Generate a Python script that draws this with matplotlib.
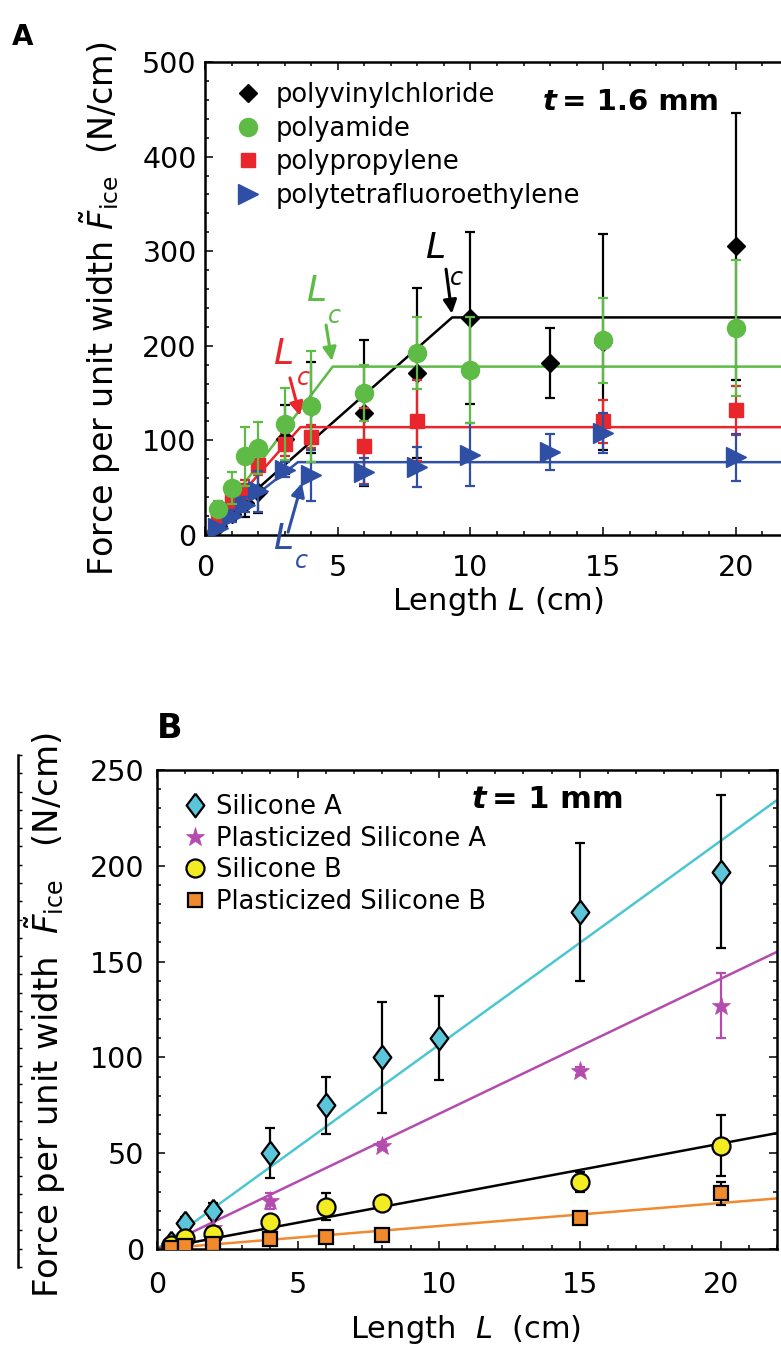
import numpy as np
import matplotlib
matplotlib.use("Agg")
import matplotlib.pyplot as plt
from matplotlib.ticker import MultipleLocator

plt.rcParams['font.family'] = ['DejaVu Sans']
plt.rcParams['mathtext.fontset'] = 'dejavusans'

# ---------------- Panel A data (t = 1.6 mm) ----------------
pvc_x = [0.5, 1, 1.5, 2, 3, 4, 6, 8, 10, 13, 15, 20]
pvc_y = [10, 22, 34, 45, 101, 135, 129, 171, 229, 182, 204, 305]
pvc_e = [4, 6, 15, 22, 36, 48, 77, 90, 91, 37, 114, 141]

pa_x = [0.5, 1, 1.5, 2, 3, 4, 6, 8, 10, 15, 20]
pa_y = [28, 50, 83, 92, 117, 136, 150, 192, 174, 206, 219]
pa_e = [8, 17, 31, 27, 38, 59, 30, 38, 56, 45, 72]

pp_x = [0.5, 1, 1.5, 2, 3, 4, 6, 8, 15, 20]
pp_y = [18, 37, 48, 74, 96, 104, 94, 121, 120, 132]
pp_e = [5, 8, 10, 11, 12, 12, 40, 43, 23, 26]

ptfe_x = [0.5, 1, 1.5, 2, 3, 4, 6, 8, 10, 13, 15, 20]
ptfe_y = [7, 20, 32, 46, 69, 63, 67, 72, 85, 88, 108, 82]
ptfe_e = [3, 6, 8, 22, 8, 27, 14, 21, 33, 19, 21, 25]

labels_A = ['polyvinylchloride', 'polyamide', 'polypropylene', 'polytetrafluoroethylene']
fit_slope_A = [24.7, 37.0, 31.7, 22.0]      # N/cm per cm
fit_plateau_A = [230, 178, 114, 77]        # N/cm

# ---------------- Panel B data (t = 1 mm) ----------------
sa_x = [0.5, 1, 2, 4, 6, 8, 10, 15, 20]
sa_y = [3, 13.5, 20, 50, 75, 100, 110, 176, 197]
sa_e = [1, 3, 4, 13, 15, 29, 22, 36, 40]

psa_x = [1, 2, 4, 8, 15, 20]
psa_y = [6, 11, 25, 54, 93, 127]
psa_e = [0, 0, 4, 2, 2, 17]

sb_x = [0.5, 1, 2, 4, 6, 8, 15, 20]
sb_y = [2, 6, 8, 14, 22, 24, 35, 54]
sb_e = [1, 1, 2, 3, 7, 3, 5, 16]

psb_x = [0.5, 1, 2, 4, 6, 8, 15, 20]
psb_y = [0.5, 1.5, 2.5, 5, 6.3, 7.5, 16, 29]
psb_e = [0.3, 0.5, 1, 2, 1.5, 1.5, 2, 6]

labels_B = ['Silicone A', 'Plasticized Silicone A', 'Silicone B', 'Plasticized Silicone B']
fit_slope_B = [10.65, 7.05, 2.75, 1.2]

XMAX = 22

W, H = 781, 1352
def fx(p): return p / W
def fy(p): return 1 - p / H

fig = plt.figure(figsize=(W / 100, H / 100), dpi=100)

def style_axes(ax, ymin_loc):
    for s in ax.spines.values():
        s.set_linewidth(1.8)
    ax.tick_params(which='both', direction='in', top=True, right=True, width=1.1)
    ax.tick_params(which='major', length=6)
    ax.tick_params(which='minor', length=3)
    ax.tick_params(axis='both', labelsize=20.5)
    ax.xaxis.set_minor_locator(MultipleLocator(1))
    ax.yaxis.set_minor_locator(MultipleLocator(ymin_loc))

# ================= Panel A =================
axA = fig.add_axes([fx(205), fy(535), (789 - 205) / W, (535 - 62) / H])
axA.set_xlim(0, XMAX)
axA.set_ylim(0, 500)
axA.set_xticks([0, 5, 10, 15, 20])
axA.set_yticks([0, 100, 200, 300, 400, 500])
style_axes(axA, 20)
axA.tick_params(axis='y', pad=6)
axA.tick_params(axis='x', pad=14)

cA = ['#000000', '#5DBB46', '#E8262B', '#2E4FA3']

# fitted bilinear lines
for k, (s, p) in enumerate(zip(fit_slope_A, fit_plateau_A)):
    xs = [0, p / s, XMAX]
    ys = [0, p, p]
    axA.plot(xs, ys, color=cA[k], lw=1.8, zorder=2)

ek = dict(elinewidth=1.6, capsize=3.5, capthick=1.6, linestyle='none')
hA = [None] * 4
e = axA.errorbar(pvc_x, pvc_y, yerr=pvc_e, fmt='D', ms=9.5, color=cA[0], zorder=3, **ek)
hA[0] = e[0]
e = axA.errorbar(pp_x, pp_y, yerr=pp_e, fmt='s', ms=10.5, color=cA[2], zorder=4, **ek)
hA[2] = e[0]
e = axA.errorbar(ptfe_x, ptfe_y, yerr=ptfe_e, fmt='>', ms=14, color=cA[3], zorder=5, **ek)
hA[3] = e[0]
e = axA.errorbar(pa_x, pa_y, yerr=pa_e, fmt='o', ms=13, color=cA[1], zorder=6, **ek)
hA[1] = e[0]

axA.legend(hA, labels_A, loc='upper left', bbox_to_anchor=(0.051, 0.958),
           frameon=False, fontsize=18.5, handlelength=1.0, handletextpad=0.6,
           labelspacing=0.3, borderpad=0, borderaxespad=0)

# L_c annotations
def lc(ax, Lpos, cpos, tail, tip, color):
    ax.text(*Lpos, 'L', style='italic', fontsize=26, color=color, ha='center', va='center',
            clip_on=False, zorder=8)
    ax.text(*cpos, 'c', style='italic', fontsize=17, color=color, ha='center', va='center',
            clip_on=False, zorder=8)
    ax.annotate('', xy=tip, xytext=tail,
                arrowprops=dict(arrowstyle='-|>', color=color, lw=2.2, mutation_scale=20,
                                shrinkA=0, shrinkB=0), annotation_clip=False, zorder=8)

lc(axA, (8.66, 303), (9.49, 272), (9.08, 281), (9.3, 234), cA[0])
lc(axA, (4.18, 258), (4.86, 231), (4.56, 222), (4.78, 184), cA[1])
lc(axA, (2.94, 191), (3.69, 166), (3.2, 166), (3.58, 126), cA[2])
lc(axA, (2.94, -4), (3.65, -28), (3.13, 3), (3.65, 55), cA[3])

fig.text(fx(543), fy(110), 't', style='italic', weight='bold', fontsize=21, va='baseline')
fig.text(fx(562), fy(110), '= 1.6 mm', weight='bold', fontsize=21, va='baseline')

fig.text(fx(12), fy(45), 'A', weight='bold', fontsize=20, va='baseline')
fig.text(fx(100), fy(309), r'Force per unit width $\tilde{F}_{\mathrm{ice}}$  (N/cm)',
         rotation=90, ha='center', va='center', fontsize=24)
fig.text(fx(498), fy(601), r'Length $L$ (cm)', ha='center', va='center', fontsize=22)

# ================= Panel B =================
axB = fig.add_axes([fx(157), fy(1249), (777 - 157) / W, (1249 - 770) / H])
axB.set_xlim(0, XMAX)
axB.set_ylim(0, 250)
axB.set_xticks([0, 5, 10, 15, 20])
axB.set_yticks([0, 50, 100, 150, 200, 250])
style_axes(axB, 10)
axB.tick_params(axis='y', pad=9)
axB.tick_params(axis='x', pad=16)

cB_face = ['#5BC6D9', '#B44BAE', '#F2EC22', '#F18A2C']
cB_line = ['#4CC7D2', '#B44BAE', '#000000', '#F08A30']

for k, s in enumerate(fit_slope_B):
    axB.plot([0, XMAX], [0, s * XMAX], color=cB_line[k], lw=1.8, zorder=2)

diamond = [(0, 1), (0.75, 0), (0, -1), (-0.75, 0), (0, 1)]
ekB = dict(elinewidth=1.6, capsize=3.5, capthick=1.6, linestyle='none')
hB = []
e = axB.errorbar(sa_x, sa_y, yerr=sa_e, fmt='none', ecolor='black', zorder=3, **ekB)
m, = axB.plot(sa_x, sa_y, linestyle='none', marker=diamond, ms=17, mfc=cB_face[0],
              mec='black', mew=1.6, zorder=3.5)
hB.append(m)
e = axB.errorbar(psa_x, psa_y, yerr=psa_e, fmt='none', ecolor=cB_face[1], zorder=4, **ekB)
m, = axB.plot(psa_x, psa_y, linestyle='none', marker='*', ms=14, mfc=cB_face[1],
              mec=cB_face[1], mew=0.5, zorder=4.5)
hB.append(m)
e = axB.errorbar(sb_x, sb_y, yerr=sb_e, fmt='none', ecolor='black', zorder=5, **ekB)
m, = axB.plot(sb_x, sb_y, linestyle='none', marker='o', ms=13, mfc=cB_face[2],
              mec='black', mew=1.6, zorder=5.5)
hB.append(m)
e = axB.errorbar(psb_x, psb_y, yerr=psb_e, fmt='none', ecolor='black', zorder=6, **ekB)
m, = axB.plot(psb_x, psb_y, linestyle='none', marker='s', ms=10.5, mfc=cB_face[3],
              mec='black', mew=1.6, zorder=6.5)
hB.append(m)

axB.legend(hB, labels_B, loc='upper left', bbox_to_anchor=(0.040, 0.950),
           frameon=False, fontsize=18.5, handlelength=1.0, handletextpad=0.35,
           labelspacing=0.22, borderpad=0, borderaxespad=0)

fig.text(fx(472), fy(808), 't', style='italic', weight='bold', fontsize=22, va='baseline')
fig.text(fx(492), fy(808), '= 1 mm', weight='bold', fontsize=22, va='baseline')

fig.text(fx(157), fy(738), 'B', weight='bold', fontsize=24, va='baseline')
fig.text(fx(45), fy(1015), r'Force per unit width  $\tilde{F}_{\mathrm{ice}}$   (N/cm)',
         rotation=90, ha='center', va='center', fontsize=24.5)
fig.text(fx(466), fy(1330), r'Length  $L$  (cm)', ha='center', va='center', fontsize=22)

# edge of a neighbouring panel visible at the far left of B
axE = fig.add_axes([fx(18), fy(1267), 0.0005, (1267 - 755) / H])
axE.set_facecolor('none')
for side in ['top', 'right', 'bottom']:
    axE.spines[side].set_visible(False)
axE.spines['left'].set_linewidth(1.8)
axE.set_ylim(0, 28)
axE.set_xticks([])
axE.yaxis.set_major_locator(MultipleLocator(1))
axE.tick_params(axis='y', direction='out', length=3, width=1, labelleft=False,
                left=False, right=True)

fig.savefig('out.png', dpi=100)
